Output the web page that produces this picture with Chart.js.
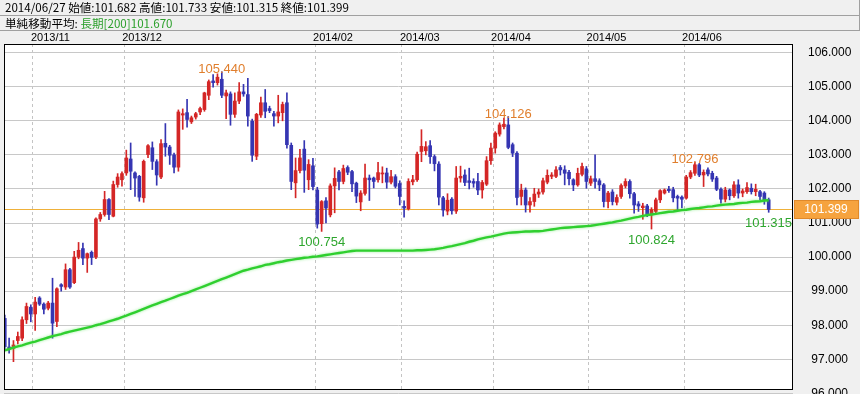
<!DOCTYPE html>
<html><head><meta charset="utf-8">
<script src="https://cdn.jsdelivr.net/npm/chart.js@4.4.1/dist/chart.umd.min.js"></script>
<style>
html,body{margin:0;padding:0;background:#f0f0f0;}
#wrap{position:relative;width:860px;height:394px;overflow:hidden;background:#f0f0f0;}
#c{position:absolute;left:0;top:0;}
.row{position:absolute;left:0;width:860px;border-bottom:1px solid #a0a0a0;border-right:1px solid #a0a0a0;font:11.6px "Noto Sans CJK JP",sans-serif;color:#000;white-space:pre;padding-left:5px;box-sizing:border-box;}
#r1{top:0;height:16px;line-height:15px;}
#r2{top:16px;height:15px;line-height:14px;}
.g{color:#2ca02c;}
</style></head>
<body><div id="wrap"><canvas id="c" width="860" height="394"></canvas>
<div class="row" id="r1"></div><div class="row" id="r2"></div></div>
<script>
// ---- data (USD/JPY daily, 2013/10/23 - 2014/06/27) ----
const lastDate = '2014/06/27';
const opens = [
98.20,97.36,97.32,97.55,97.62,98.16,98.53,98.33,98.80,98.62,
98.50,98.65,98.11,99.19,99.12,99.63,99.25,100.00,100.25,99.97,
100.14,100.00,101.12,101.25,101.69,101.20,102.13,102.27,102.47,102.88,
102.47,102.37,101.74,103.01,103.21,102.80,102.35,103.34,103.23,103.00,
102.64,104.17,104.24,103.97,104.11,104.26,104.33,104.75,105.17,105.12,
105.22,104.73,104.79,104.19,104.58,104.85,104.77,103.99,102.96,104.17,
104.53,104.36,104.21,104.14,104.24,104.53,103.28,102.18,102.54,103.17,
102.27,102.68,101.97,100.98,101.65,101.24,102.09,102.50,102.22,102.63,
102.51,102.17,101.62,101.87,102.32,102.32,102.27,102.44,102.47,102.20,
102.36,102.16,101.49,101.42,102.21,102.27,103.10,103.12,103.27,102.95,
102.73,101.74,101.35,101.70,101.35,102.32,102.41,102.24,102.22,102.22,
101.97,102.14,102.83,103.20,103.61,103.83,103.88,103.30,103.05,101.78,
101.97,101.53,101.63,101.85,101.91,102.20,102.37,102.37,102.63,102.56,
102.49,102.27,102.12,102.43,102.59,102.17,102.30,102.24,102.12,101.63,
101.91,101.61,101.78,102.09,102.22,101.86,101.56,101.45,101.50,101.24,
101.34,101.68,101.88,101.99,101.98,101.78,101.76,101.73,102.35,102.46,
102.71,102.41,102.56,102.46,102.32,101.99,101.70,101.97,101.80,102.12,
101.88,101.92,102.02,101.92,101.92,101.88,101.682];
const highs = [
98.30,97.62,97.55,97.80,98.25,98.65,98.60,98.82,98.84,98.66,
98.70,99.38,99.10,99.22,99.80,99.67,100.17,100.43,100.41,100.12,
100.18,101.15,101.31,101.93,101.72,102.23,102.45,102.50,103.14,103.35,
102.50,102.40,102.85,103.30,103.38,102.86,103.45,103.92,103.28,103.05,
104.32,104.35,104.63,104.14,104.25,104.40,104.84,105.20,105.36,105.38,
105.44,104.90,104.85,104.82,105.12,105.07,105.25,104.05,104.22,104.70,
104.92,104.43,104.28,104.75,104.55,104.82,103.35,102.91,103.16,103.42,
102.86,102.90,102.05,101.66,101.75,102.15,102.62,102.55,102.70,102.68,
102.55,102.20,101.95,102.73,102.41,102.35,102.78,102.65,102.61,102.55,
102.42,102.24,101.65,102.30,102.40,103.08,103.74,103.39,103.42,103.00,
102.80,101.78,101.86,101.75,102.66,102.67,102.56,102.61,102.30,102.46,
102.25,102.95,103.35,103.68,103.94,104.08,104.126,103.35,103.10,102.14,
102.03,101.75,102.02,102.00,102.32,102.56,102.48,102.66,102.69,102.68,
102.55,102.30,102.61,102.76,102.66,102.38,103.00,102.30,102.16,101.93,
101.98,101.83,102.15,102.30,102.27,101.90,101.63,101.58,101.55,101.45,
101.73,101.98,102.00,102.08,102.05,101.82,101.80,102.40,102.54,102.796,
102.75,102.56,102.62,102.52,102.37,102.03,102.05,102.00,102.22,102.27,
102.00,102.19,102.15,102.14,101.96,101.92,101.733];
const lows = [
97.25,97.18,96.93,97.45,97.55,98.05,98.10,97.85,98.58,98.33,
98.45,97.62,97.96,99.00,99.05,99.08,99.22,99.95,99.78,99.55,
99.78,99.95,101.05,101.20,101.10,101.18,102.05,102.08,102.40,101.98,
101.78,101.64,101.61,102.92,102.57,102.11,102.30,102.96,102.72,102.47,
102.52,103.75,103.81,103.92,104.05,104.18,104.28,104.62,104.99,105.05,
104.68,104.06,103.87,104.10,104.50,104.72,103.84,102.81,102.86,104.10,
104.09,104.24,103.84,103.94,104.00,103.20,101.98,101.74,102.47,101.90,
101.98,101.97,100.85,100.754,101.00,101.18,101.30,101.97,102.15,102.42,
101.92,101.60,101.36,101.82,101.66,102.03,102.20,102.18,102.02,102.15,
102.03,101.53,101.17,101.38,102.12,102.22,102.80,103.00,102.75,102.53,
101.53,101.20,101.24,101.26,101.28,102.20,102.10,102.00,102.05,101.83,
101.73,102.10,102.72,103.05,103.55,103.76,103.18,102.95,101.53,101.53,
101.32,101.32,101.49,101.75,101.85,102.15,102.30,102.33,102.41,102.12,
102.12,101.95,102.08,102.38,102.02,102.10,102.02,101.95,101.47,101.44,
101.53,101.53,101.72,102.03,101.73,101.29,101.34,101.11,101.19,100.824,
101.30,101.60,101.85,101.90,101.62,101.39,101.44,101.70,102.30,102.40,
102.36,102.07,102.38,102.22,101.95,101.58,101.62,101.68,101.75,101.73,
101.77,101.87,101.85,101.80,101.68,101.55,101.315];
const closes = [
97.37,97.30,97.42,97.67,98.16,98.55,98.33,98.68,98.62,98.47,
98.65,98.06,99.07,99.14,99.63,99.12,100.00,100.20,99.97,100.10,
99.99,101.12,101.25,101.69,101.25,102.13,102.35,102.45,102.91,102.52,
102.32,101.76,102.81,103.27,102.81,102.41,103.33,103.23,102.99,102.64,
104.26,104.21,104.04,104.09,104.21,104.36,104.82,105.15,105.12,105.28,
104.75,104.82,104.19,104.58,104.85,104.79,104.14,102.99,104.19,104.53,
104.28,104.30,104.14,104.26,104.48,103.30,102.22,102.54,102.91,102.55,
102.72,102.07,100.97,101.63,101.44,102.09,102.31,102.22,102.60,102.49,
102.15,101.79,101.88,102.32,102.27,102.22,102.48,102.47,102.20,102.36,
102.08,101.78,101.44,102.22,102.27,103.02,103.25,103.24,102.95,102.74,
101.76,101.38,101.67,101.36,102.32,102.37,102.19,102.19,102.17,101.97,
102.19,102.83,103.20,103.64,103.88,103.90,103.22,103.05,101.75,101.97,
101.53,101.63,101.85,101.91,102.24,102.40,102.41,102.56,102.56,102.46,
102.30,102.12,102.46,102.66,102.22,102.30,102.22,102.12,101.63,101.88,
101.63,101.75,102.10,102.22,101.86,101.53,101.50,101.50,101.24,101.39,
101.68,101.95,101.97,101.95,101.74,101.73,101.70,102.35,102.48,102.71,
102.41,102.49,102.44,102.29,101.99,101.70,101.97,101.80,102.12,101.88,
101.94,102.04,101.92,101.99,101.78,101.68,101.399];
const sma200 = [
97.26,97.30,97.34,97.38,97.41,97.45,97.49,97.52,97.56,97.60,
97.64,97.68,97.71,97.74,97.78,97.81,97.84,97.87,97.90,97.93,
97.96,98.00,98.03,98.07,98.11,98.15,98.19,98.24,98.28,98.33,
98.38,98.43,98.48,98.53,98.58,98.63,98.68,98.72,98.77,98.82,
98.87,98.91,98.95,99.00,99.05,99.10,99.15,99.20,99.25,99.30,
99.35,99.40,99.45,99.50,99.55,99.60,99.63,99.67,99.70,99.73,
99.77,99.79,99.82,99.85,99.87,99.90,99.92,99.94,99.96,99.98,
99.99,100.01,100.02,100.04,100.06,100.08,100.10,100.12,100.14,100.16,
100.18,100.19,100.19,100.19,100.19,100.19,100.19,100.19,100.19,100.19,
100.19,100.19,100.19,100.19,100.19,100.20,100.20,100.21,100.22,100.23,
100.25,100.27,100.30,100.32,100.35,100.38,100.41,100.45,100.48,100.52,
100.55,100.58,100.60,100.63,100.66,100.69,100.71,100.72,100.73,100.74,
100.75,100.75,100.76,100.76,100.77,100.79,100.81,100.83,100.85,100.86,
100.87,100.88,100.89,100.90,100.91,100.92,100.94,100.96,100.98,101.00,
101.02,101.05,101.07,101.10,101.13,101.16,101.18,101.21,101.23,101.25,
101.27,101.29,101.31,101.33,101.34,101.36,101.38,101.39,101.41,101.43,
101.44,101.46,101.48,101.49,101.51,101.53,101.54,101.55,101.56,101.58,
101.59,101.60,101.62,101.63,101.64,101.66,101.67];
const monthStartIdx = [7, 28, 72, 92, 113, 135, 157];
const monthLabels = ['2013/11','2013/12','2014/02','2014/03','2014/04','2014/05','2014/06'];
const yTickValues = [96,97,98,99,100,101,102,103,104,105,106];
const markIdx  = [50, 116, 159, 73, 149, 176];
const markKind = ['high','high','high','low','low','low'];

// ---- header ----
const N = closes.length, L = N - 1;
const f3 = v => v.toFixed(3);
document.getElementById('r1').textContent =
  lastDate + ' 始値:' + f3(opens[L]) + ' 高値:' + f3(highs[L]) + ' 安値:' + f3(lows[L]) + ' 終値:' + f3(closes[L]);
document.getElementById('r2').innerHTML = '単純移動平均: <span class="g">長期[200]' + f3(sma200[L]) + '</span>';

const RED = '#d42626', BLUE = '#3535b2';
const colorAt = i => closes[i] >= opens[i] ? RED : BLUE;
const idx = closes.map((_, i) => i);
const AXFONT = '"Liberation Sans Narrow","Liberation Sans",sans-serif';
const zeroPad = s => { s.paddingTop = 0; s.paddingBottom = 0; s.paddingLeft = 0; s.paddingRight = 0; };

const fxPlugin = {
  id: 'fx',
  beforeDraw(chart) {
    const {ctx, chartArea: a} = chart;
    ctx.save(); ctx.fillStyle = '#ffffff';
    ctx.fillRect(a.left, a.top, a.right - a.left, a.bottom - a.top); ctx.restore();
  },
  beforeDatasetsDraw(chart) {
    const {ctx, chartArea: a, scales: {y}} = chart;
    const py = Math.round(y.getPixelForValue(closes[L])) + 0.5;
    ctx.save(); ctx.strokeStyle = '#efb13a'; ctx.lineWidth = 1;
    ctx.beginPath(); ctx.moveTo(a.left, py); ctx.lineTo(a.right, py); ctx.stroke(); ctx.restore();
  },
  beforeDatasetDraw(chart, args) {
    if (args.index === 0) { const c = chart.ctx; c.save(); c.shadowColor = 'rgba(80,225,80,0.6)'; c.shadowBlur = 3; }
  },
  afterDatasetDraw(chart, args) { if (args.index === 0) chart.ctx.restore(); },
  afterDatasetsDraw(chart) {
    const {ctx, chartArea: a, scales: {x, y}} = chart;
    ctx.save();
    ctx.font = '13px "Liberation Sans", Arial, sans-serif';
    ctx.textAlign = 'center';
    markIdx.forEach((i, k) => {
      const hi = markKind[k] === 'high';
      const v = hi ? highs[i] : lows[i];
      const t = f3(v);
      const w = ctx.measureText(t).width;
      let px = x.getPixelForValue(i);
      px = Math.min(px, a.right - w / 2 - 1);
      const py = y.getPixelForValue(v);
      if (hi) { ctx.fillStyle = '#e07e2c'; ctx.textBaseline = 'alphabetic'; ctx.fillText(t, px, py + 1); }
      else { ctx.fillStyle = '#2ea62e'; ctx.textBaseline = 'top'; ctx.fillText(t, px, py + 5); }
    });
    ctx.restore();
  },
  afterDraw(chart) {
    const {ctx, chartArea: a, scales: {y}} = chart;
    ctx.save();
    ctx.strokeStyle = '#000'; ctx.lineWidth = 1;
    ctx.strokeRect(a.left + 0.5, a.top + 0.5, a.right - a.left - 1, a.bottom - a.top);
    const py = Math.round(y.getPixelForValue(closes[L]));
    ctx.fillStyle = '#f6a33e'; ctx.strokeStyle = '#e0892a';
    ctx.fillRect(a.right + 1, py - 9, 65, 19);
    ctx.strokeRect(a.right + 1.5, py - 8.5, 64, 18);
    ctx.fillStyle = '#ffffff'; ctx.font = '12px ' + AXFONT;
    ctx.textAlign = 'center'; ctx.textBaseline = 'middle';
    ctx.fillText(f3(closes[L]), 826, py + 1);
    ctx.restore();
  }
};

new Chart(document.getElementById('c'), {
  data: {
    datasets: [
      { type: 'line', data: idx.map(i => ({x: i, y: sma200[i]})), borderColor: '#2fcf2f', borderWidth: 2.4,
        pointRadius: 0, tension: 0, fill: false, order: 0 },
      { type: 'bar', data: idx.map(i => ({x: i, y: [opens[i], closes[i]]})), backgroundColor: c => colorAt(c.dataIndex),
        barThickness: 3, minBarLength: 1, grouped: false, borderWidth: 0, order: 1 },
      { type: 'bar', data: idx.map(i => ({x: i, y: [lows[i], highs[i]]})), backgroundColor: c => colorAt(c.dataIndex),
        barThickness: 1, grouped: false, borderWidth: 0, order: 2 }
    ]
  },
  options: {
    responsive: false, animation: false, devicePixelRatio: 1,
    layout: { padding: { top: 30, left: 4, right: 0, bottom: 5 } },
    plugins: { legend: { display: false }, tooltip: { enabled: false } },
    scales: {
      x: {
        type: 'linear', position: 'top', min: -0.18, max: 181.6, offset: false,
        afterBuildTicks: s => { s.ticks = monthStartIdx.map(m => ({ value: m - 0.5 })); },
        afterFit: s => { s.height = 14; zeroPad(s); },
        grid: { offset: false, color: '#c4c4c4', lineWidth: 1, drawTicks: false },
        border: { display: false, dash: [3, 3] },
        ticks: { autoSkip: false, maxRotation: 0, align: 'start', labelOffset: -2, padding: -1, color: '#000',
          font: { family: '"Liberation Sans", Arial, sans-serif', size: 11 },
          callback: (v, i) => monthLabels[i] }
      },
      y: {
        type: 'linear', position: 'right', min: 96.128, max: 106.255,
        afterBuildTicks: s => { s.ticks = yTickValues.map(v => ({ value: v })); },
        afterFit: s => { s.width = 67; zeroPad(s); },
        grid: { color: '#c8c8c8', lineWidth: 1, drawTicks: false },
        border: { display: false },
        ticks: { crossAlign: 'center', padding: 15, color: '#000', font: { family: AXFONT, size: 12 },
          callback: v => v.toFixed(3) }
      }
    }
  },
  plugins: [fxPlugin]
});
</script>
</body></html>
